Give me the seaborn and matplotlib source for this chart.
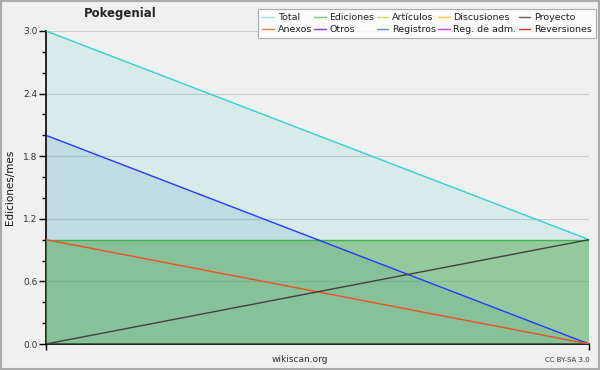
import matplotlib
matplotlib.use("Agg")
import matplotlib.pyplot as plt
import seaborn as sns
import pandas as pd
from matplotlib.lines import Line2D
from matplotlib.patches import Rectangle

# data
x_vals = [0, 1]
total = [3.0, 1.0]
ediciones = [1.0, 1.0]
registros = [2.0, 0.0]
anexos = [1.0, 0.0]
proyecto = [0.0, 1.0]
yticks = [0.0, 0.6, 1.2, 1.8, 2.4, 3.0]
legend_labels = ["Total", "Ediciones", "Artículos", "Discusiones", "Proyecto",
                 "Anexos", "Otros", "Registros", "Reg. de adm.", "Reversiones"]
legend_colors = ["#a8e4e4", "#80c890", "#c8e860", "#f8c848", "#606060",
                 "#f08040", "#8040d0", "#7080f0", "#d040e0", "#e83030"]

sns.set_theme(style="white")
plt.rcParams['font.family'] = ['DejaVu Sans']

bg = "#f0f0f0"
fig = plt.figure(figsize=(6, 3.7), dpi=100, facecolor=bg)
ax = fig.add_axes([46/600, 1-344/370, (589-46)/600, (344-31)/370])
ax.set_facecolor(bg)

# fills
ax.fill_between(x_vals, 0, total, color="#40d0d0", alpha=0.14, lw=0, zorder=1)
ax.fill_between(x_vals, 0, registros, color="#2070b8", alpha=0.13, lw=0, zorder=2)
ax.fill_between(x_vals, 0, ediciones, color="#50a850", alpha=0.5, lw=0, zorder=3)

df = pd.DataFrame({
    "x": x_vals * 5,
    "y": total + ediciones + registros + anexos + proyecto,
    "serie": ["Total"] * 2 + ["Ediciones"] * 2 + ["Registros"] * 2 + ["Anexos"] * 2 + ["Proyecto"] * 2,
})
palette = {"Total": "#30d0d0", "Ediciones": "#40b050", "Registros": "#2838ff",
           "Anexos": "#f05020", "Proyecto": "#404040"}
sns.lineplot(data=df, x="x", y="y", hue="serie", palette=palette, lw=1.0,
             legend=False, ax=ax, zorder=4)

ax.set_xlim(0, 1)
ax.set_ylim(0, 3.0)
ax.set_yticks(yticks)
ax.set_yticklabels([f"{v:.1f}" for v in yticks], fontsize=6.5, color="#333333")
ax.set_yticks([0.2, 0.4, 0.8, 1.0, 1.4, 1.6, 2.0, 2.2, 2.6, 2.8], minor=True)
ax.set_xticks([0, 1])
ax.set_xticklabels([])
ax.tick_params(axis="y", which="major", direction="out", length=5, width=1, color="black", left=True, pad=1)
ax.tick_params(axis="y", which="minor", direction="out", length=3, width=1, color="black", left=True)
ax.tick_params(axis="x", which="major", direction="out", length=4, width=1, color="black", bottom=True)
ax.grid(axis="y", which="major", color="#cccccc", lw=0.8)
ax.set_axisbelow(True)
for s in ["top", "right"]:
    ax.spines[s].set_visible(False)
for s in ["left", "bottom"]:
    ax.spines[s].set_color("black")
    ax.spines[s].set_linewidth(1.2)
ax.set_xlabel("")
ax.set_ylabel("Ediciones/mes", fontsize=7.5, labelpad=6, color="#111111")

# legend ordered column-wise for ncol=5
order = [0, 5, 1, 6, 2, 7, 3, 8, 4, 9]
handles = [Line2D([], [], color=legend_colors[i], lw=1) for i in order]
labels = [legend_labels[i] for i in order]
leg = fig.legend(handles, labels, ncol=5, loc="upper right", bbox_to_anchor=(598/600, 1-7/370),
                 fontsize=6.8, frameon=True, fancybox=False, handlelength=1.2, handletextpad=0.4,
                 columnspacing=0.25, labelspacing=0.3, borderpad=0.45, borderaxespad=0.2,
                 edgecolor="#999999")
leg.get_frame().set_facecolor("white")
leg.get_frame().set_linewidth(0.8)
for t in leg.get_texts():
    t.set_color("#222222")

fig.text(120/600, 1-14/370, "Pokegenial", fontsize=8.5, fontweight="bold", ha="center", va="center")
fig.text(300/600, 1-360/370, "wikiscan.org", fontsize=6.5, ha="center", va="center", color="#333333")
fig.text(590/600, 1-360/370, "CC BY-SA 3.0", fontsize=5, ha="right", va="center", color="#333333")

fig.patches.append(Rectangle((0.001, 0.002), 0.997, 0.996, transform=fig.transFigure,
                             fill=False, edgecolor="#aaaaaa", lw=1.5))

fig.savefig("out.png", dpi=100, facecolor=bg)
